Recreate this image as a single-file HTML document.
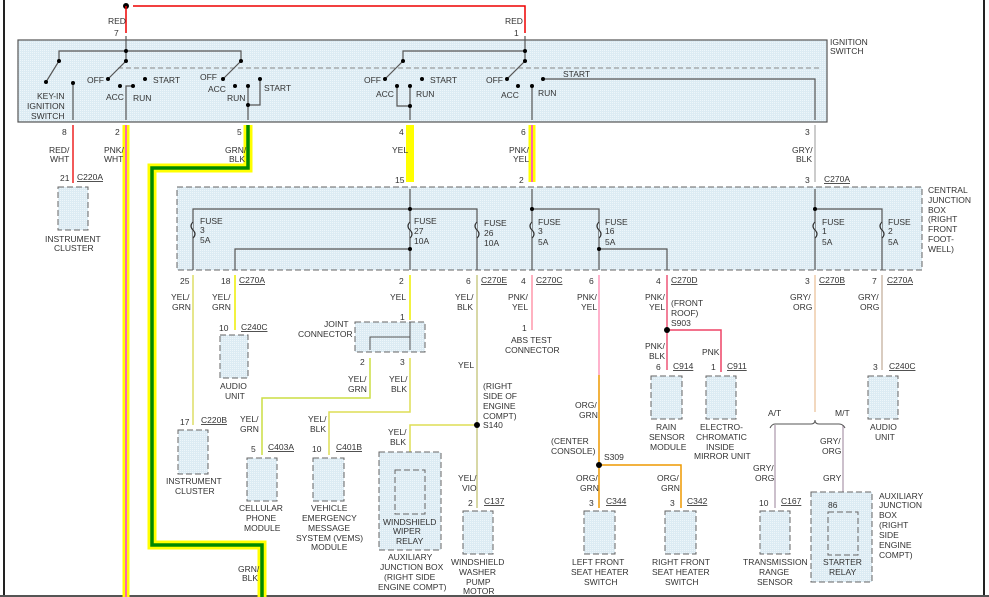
<!DOCTYPE html><html><head><style>body{margin:0;background:#fff}svg{display:block}text{font-family:"Liberation Sans",sans-serif;font-size:8.5px;fill:#333}</style></head><body>
<svg width="989" height="597" viewBox="0 0 989 597" xmlns="http://www.w3.org/2000/svg">
<defs><pattern id="p" width="2" height="2" patternUnits="userSpaceOnUse"><rect width="2" height="2" fill="#dcebf3"/><rect width="1" height="1" fill="#eef6fa"/></pattern></defs>
<line x1="4" y1="0" x2="4" y2="597" stroke="#222" stroke-width="2"/>
<line x1="984" y1="0" x2="984" y2="597" stroke="#222" stroke-width="2"/>
<line x1="0" y1="596" x2="989" y2="596" stroke="#555" stroke-width="2"/>
<!-- top red -->
<circle cx="126" cy="6" r="3" fill="#000"/>
<polyline points="133,6 525,6 525,33" fill="none" stroke="#e00" stroke-width="1.5"/>
<line x1="126" y1="6" x2="126" y2="33" stroke="#e00" stroke-width="1.5"/>
<text x="108" y="24">RED</text><text x="114" y="36">7</text>
<text x="505" y="24">RED</text><text x="514" y="36">1</text>
<!-- ignition switch -->
<rect x="18" y="40" width="809" height="82" fill="url(#p)" stroke="#555" stroke-width="1.2"/>
<text x="830" y="45">IGNITION</text><text x="830" y="54">SWITCH</text>
<line x1="118" y1="68" x2="820" y2="68" stroke="#888" stroke-dasharray="5,3"/>
<g stroke="#555" fill="none" stroke-width="1.2">
<polyline points="126,36 126,51 59,51 59,61 46,82"/><polyline points="126,51 241,51 241,61 223,79"/>
<line x1="126" y1="51" x2="126" y2="61"/><line x1="126" y1="61" x2="108" y2="79"/>
<line x1="73" y1="83" x2="73" y2="120"/><polyline points="133,86 126,86 126,120"/>
<polyline points="260,79 260,105 248,105"/><line x1="248" y1="86" x2="248" y2="120"/>
<polyline points="525,36 525,51 403,51 403,61 385,79"/><line x1="525" y1="51" x2="525" y2="61"/><line x1="525" y1="61" x2="507" y2="79"/>
<polyline points="397,86 397,106 410,106"/><line x1="410" y1="86" x2="410" y2="120"/>
<line x1="532" y1="86" x2="532" y2="120"/>
<polyline points="543,79 815,79 815,120"/>
</g>
<g fill="#000">
<circle cx="126" cy="51" r="2"/><circle cx="59" cy="61" r="2"/><circle cx="46" cy="82" r="2"/><circle cx="73" cy="83" r="2"/>
<circle cx="126" cy="61" r="2"/><circle cx="108" cy="79" r="2"/><circle cx="120" cy="86" r="2"/><circle cx="133" cy="86" r="2"/><circle cx="145" cy="79" r="2"/>
<circle cx="241" cy="61" r="2"/><circle cx="223" cy="79" r="2"/><circle cx="235" cy="86" r="2"/><circle cx="248" cy="86" r="2"/><circle cx="260" cy="79" r="2"/><circle cx="248" cy="105" r="2"/>
<circle cx="403" cy="61" r="2"/><circle cx="385" cy="79" r="2"/><circle cx="397" cy="86" r="2"/><circle cx="410" cy="86" r="2"/><circle cx="422" cy="79" r="2"/><circle cx="410" cy="106" r="2"/>
<circle cx="525" cy="51" r="2"/><circle cx="525" cy="61" r="2"/><circle cx="507" cy="79" r="2"/><circle cx="518" cy="86" r="2"/><circle cx="532" cy="86" r="2"/><circle cx="543" cy="79" r="2"/>
</g>
<text x="37" y="99">KEY-IN</text><text x="27" y="109">IGNITION</text><text x="31" y="119">SWITCH</text>
<text x="87" y="83">OFF</text><text x="106" y="100">ACC</text><text x="133" y="101">RUN</text><text x="153" y="83">START</text>
<text x="200" y="80">OFF</text><text x="208" y="92">ACC</text><text x="227" y="101">RUN</text><text x="264" y="91">START</text>
<text x="364" y="83">OFF</text><text x="376" y="97">ACC</text><text x="416" y="97">RUN</text><text x="430" y="83">START</text>
<text x="486" y="83">OFF</text><text x="501" y="98">ACC</text><text x="538" y="96">RUN</text><text x="563" y="77">START</text>
<!-- wires from switch -->
<line x1="73" y1="125" x2="73" y2="183" stroke="#e22" stroke-width="1.5"/>
<line x1="126" y1="125" x2="126" y2="597" stroke="#ff0" stroke-width="7"/><line x1="126" y1="125" x2="126" y2="597" stroke="#f6a" stroke-width="2"/>
<polyline points="248,125 248,168 152,168 152,545 262,545 262,597" fill="none" stroke="#ff0" stroke-width="9"/>
<polyline points="248,125 248,168 152,168 152,545 262,545 262,597" fill="none" stroke="#080" stroke-width="3.5"/>
<line x1="410" y1="125" x2="410" y2="182" stroke="#ff0" stroke-width="8"/>
<line x1="532" y1="125" x2="532" y2="182" stroke="#ff0" stroke-width="7"/><line x1="532" y1="125" x2="532" y2="182" stroke="#f6a" stroke-width="2"/>
<line x1="815" y1="125" x2="815" y2="182" stroke="#bbb" stroke-width="1.5"/>
<text x="62" y="135">8</text><text x="49" y="153">RED/</text><text x="50" y="162">WHT</text>
<text x="115" y="135">2</text><text x="104" y="153">PNK/</text><text x="104" y="162">WHT</text>
<text x="237" y="135">5</text><text x="225" y="153">GRN/</text><text x="229" y="162">BLK</text>
<text x="399" y="135">4</text><text x="392" y="153">YEL</text>
<text x="521" y="135">6</text><text x="509" y="153">PNK/</text><text x="513" y="162">YEL</text>
<text x="805" y="135">3</text><text x="792" y="153">GRY/</text><text x="796" y="162">BLK</text>
<text x="60" y="181">21</text><text x="77" y="180" text-decoration="underline">C220A</text>
<rect x="58" y="187" width="30" height="43" fill="url(#p)" stroke="#666" stroke-dasharray="6,3"/>
<text x="45" y="242">INSTRUMENT</text><text x="54" y="251">CLUSTER</text>
<text x="395" y="183">15</text><text x="519" y="183">2</text><text x="805" y="183">3</text><text x="824" y="182" text-decoration="underline">C270A</text>
<!-- central junction box -->
<rect x="177" y="187" width="745" height="83" fill="url(#p)" stroke="#666" stroke-dasharray="6,3"/>
<text x="928" y="193">CENTRAL</text><text x="928" y="203">JUNCTION</text><text x="928" y="213">BOX</text><text x="928" y="222">(RIGHT</text><text x="928" y="232">FRONT</text><text x="928" y="242">FOOT-</text><text x="928" y="252">WELL)</text>
<g stroke="#555" fill="none" stroke-width="1.2">
<polyline points="193,270 193,209 477,209 477,270"/><line x1="410" y1="189" x2="410" y2="270"/>
<polyline points="235,270 235,249 410,249"/>
<polyline points="532,189 532,270"/><polyline points="532,209 599,209 599,270"/><polyline points="599,249 667,249 667,270"/>
<polyline points="815,189 815,270"/><polyline points="815,209 882,209 882,270"/>
</g>
<g fill="#dcebf3" stroke="#333" stroke-width="1.2">
<path d="M193,222 q-4,4 0,8 q4,4 0,8"/><path d="M410,222 q-4,4 0,8 q4,4 0,8"/><path d="M477,222 q-4,4 0,8 q4,4 0,8"/><path d="M532,222 q-4,4 0,8 q4,4 0,8"/><path d="M599,222 q-4,4 0,8 q4,4 0,8"/><path d="M815,222 q-4,4 0,8 q4,4 0,8"/><path d="M882,222 q-4,4 0,8 q4,4 0,8"/>
</g>
<g fill="#000"><circle cx="410" cy="209" r="2"/><circle cx="410" cy="249" r="2"/><circle cx="532" cy="209" r="2"/><circle cx="599" cy="249" r="2"/><circle cx="815" cy="209" r="2"/></g>
<text x="200" y="224">FUSE</text><text x="200" y="233">3</text><text x="200" y="243">5A</text>
<text x="414" y="224">FUSE</text><text x="414" y="234">27</text><text x="414" y="244">10A</text>
<text x="484" y="226">FUSE</text><text x="484" y="236">26</text><text x="484" y="246">10A</text>
<text x="538" y="225">FUSE</text><text x="538" y="234">3</text><text x="538" y="245">5A</text>
<text x="605" y="225">FUSE</text><text x="605" y="234">16</text><text x="605" y="245">5A</text>
<text x="822" y="225">FUSE</text><text x="822" y="234">1</text><text x="822" y="245">5A</text>
<text x="888" y="225">FUSE</text><text x="888" y="234">2</text><text x="888" y="245">5A</text>
<!-- bottom pins -->
<text x="180" y="284">25</text><text x="221" y="284">18</text><text x="239" y="283" text-decoration="underline">C270A</text>
<text x="399" y="284">2</text><text x="466" y="284">6</text><text x="481" y="283" text-decoration="underline">C270E</text>
<text x="521" y="284">4</text><text x="536" y="283" text-decoration="underline">C270C</text>
<text x="589" y="284">6</text><text x="656" y="284">4</text><text x="671" y="283" text-decoration="underline">C270D</text>
<text x="805" y="284">3</text><text x="819" y="283" text-decoration="underline">C270B</text>
<text x="872" y="284">7</text><text x="887" y="283" text-decoration="underline">C270A</text>
<!-- lower wires -->
<g fill="none" stroke-width="1.5">
<line x1="193" y1="275" x2="193" y2="425" stroke="#dd6"/>
<line x1="235" y1="275" x2="235" y2="330" stroke="#ee0"/>
<line x1="410" y1="275" x2="410" y2="320" stroke="#ee0"/>
<polyline points="370,358 370,398 262,398 262,455" stroke="#cd4"/>
<polyline points="410,358 410,412 329,412 329,455" stroke="#dd5"/>
<polyline points="477,275 477,508" stroke="#cc8"/>
<polyline points="477,425 410,425 410,468" stroke="#dd5"/>
<line x1="532" y1="275" x2="532" y2="330" stroke="#f9a"/>
<line x1="599" y1="275" x2="599" y2="375" stroke="#f9b"/>
<line x1="599" y1="375" x2="599" y2="508" stroke="#e90"/>
<polyline points="599,465 681,465 681,508" stroke="#e90"/>
<line x1="667" y1="275" x2="667" y2="370" stroke="#e57"/>
<polyline points="667,330 721,330 721,372" stroke="#e46"/>
<line x1="815" y1="275" x2="815" y2="412" stroke="#eca"/>
<line x1="775" y1="425" x2="775" y2="508" stroke="#bab"/>
<line x1="843" y1="425" x2="843" y2="507" stroke="#bab"/>
<line x1="882" y1="275" x2="882" y2="370" stroke="#cba"/>
<path d="M770,428 q2,-4 5,-4 h36 q4,0 4,-4 q0,4 4,4 h20 q4,0 6,4" stroke="#555" stroke-width="1"/>
</g>
<g fill="#000"><circle cx="477" cy="425" r="3"/><circle cx="599" cy="465" r="3"/><circle cx="667" cy="330" r="3"/><circle cx="410" cy="337" r="2"/></g>
<text x="171" y="300">YEL/</text><text x="172" y="310">GRN</text>
<text x="212" y="300">YEL/</text><text x="212" y="310">GRN</text>
<text x="390" y="300">YEL</text>
<text x="455" y="300">YEL/</text><text x="457" y="310">BLK</text>
<text x="508" y="300">PNK/</text><text x="512" y="310">YEL</text>
<text x="577" y="300">PNK/</text><text x="581" y="310">YEL</text>
<text x="645" y="300">PNK/</text><text x="649" y="310">YEL</text>
<text x="671" y="306">(FRONT</text><text x="671" y="316">ROOF)</text><text x="671" y="326">S903</text>
<text x="790" y="300">GRY/</text><text x="793" y="310">ORG</text>
<text x="858" y="300">GRY/</text><text x="860" y="310">ORG</text>
<!-- joint connector -->
<rect x="355" y="322" width="70" height="30" fill="url(#p)" stroke="#666" stroke-dasharray="6,3"/>
<polyline points="410,322 410,350" fill="none" stroke="#555"/><polyline points="410,337 370,337 370,350" fill="none" stroke="#555"/>
<text x="324" y="327">JOINT</text><text x="298" y="337">CONNECTOR</text>
<text x="400" y="320">1</text><text x="360" y="365">2</text><text x="400" y="365">3</text>
<text x="348" y="382">YEL/</text><text x="348" y="392">GRN</text><text x="389" y="382">YEL/</text><text x="391" y="392">BLK</text>
<text x="458" y="368">YEL</text>
<text x="483" y="389">(RIGHT</text><text x="483" y="399">SIDE OF</text><text x="483" y="409">ENGINE</text><text x="483" y="419">COMPT)</text><text x="483" y="428">S140</text>
<!-- components -->
<g fill="url(#p)" stroke="#666" stroke-dasharray="6,3">
<rect x="220" y="335" width="28" height="43"/><rect x="178" y="430" width="30" height="44"/>
<rect x="247" y="458" width="30" height="43"/><rect x="313" y="458" width="31" height="43"/>
<rect x="379" y="452" width="62" height="98"/><rect x="395" y="470" width="30" height="44"/>
<rect x="463" y="511" width="30" height="43"/>
<rect x="651" y="376" width="31" height="43"/><rect x="706" y="376" width="30" height="43"/>
<rect x="868" y="376" width="30" height="43"/>
<rect x="584" y="511" width="31" height="43"/><rect x="665" y="511" width="31" height="43"/>
<rect x="760" y="511" width="30" height="43"/>
<rect x="811" y="492" width="61" height="90"/><rect x="828" y="512" width="30" height="43"/>
</g>
<text x="219" y="331">10</text><text x="241" y="330" text-decoration="underline">C240C</text>
<text x="220" y="389">AUDIO</text><text x="225" y="399">UNIT</text>
<text x="180" y="425">17</text><text x="201" y="423" text-decoration="underline">C220B</text>
<text x="166" y="484">INSTRUMENT</text><text x="175" y="494">CLUSTER</text>
<text x="240" y="422">YEL/</text><text x="240" y="432">GRN</text>
<text x="251" y="452">5</text><text x="268" y="450" text-decoration="underline">C403A</text>
<text x="239" y="511">CELLULAR</text><text x="246" y="521">PHONE</text><text x="244" y="531">MODULE</text>
<text x="308" y="422">YEL/</text><text x="310" y="432">BLK</text>
<text x="312" y="452">10</text><text x="336" y="450" text-decoration="underline">C401B</text>
<text x="311" y="511">VEHICLE</text><text x="302" y="521">EMERGENCY</text><text x="308" y="531">MESSAGE</text><text x="296" y="541">SYSTEM (VEMS)</text><text x="311" y="550">MODULE</text>
<text x="388" y="435">YEL/</text><text x="390" y="445">BLK</text>
<text x="383" y="525">WINDSHIELD</text><text x="393" y="534">WIPER</text><text x="396" y="544">RELAY</text>
<text x="388" y="560">AUXILIARY</text><text x="380" y="570">JUNCTION BOX</text><text x="384" y="580">(RIGHT SIDE</text><text x="378" y="590">ENGINE COMPT)</text>
<text x="458" y="481">YEL/</text><text x="462" y="491">VIO</text>
<text x="468" y="506">2</text><text x="484" y="504" text-decoration="underline">C137</text>
<text x="451" y="565">WINDSHIELD</text><text x="459" y="575">WASHER</text><text x="466" y="585">PUMP</text><text x="463" y="594">MOTOR</text>
<text x="522" y="331">1</text><text x="511" y="343">ABS TEST</text><text x="505" y="353">CONNECTOR</text>
<text x="645" y="349">PNK/</text><text x="649" y="359">BLK</text><text x="702" y="355">PNK</text>
<text x="656" y="370">6</text><text x="673" y="369" text-decoration="underline">C914</text>
<text x="711" y="370">1</text><text x="727" y="369" text-decoration="underline">C911</text>
<text x="656" y="430">RAIN</text><text x="649" y="440">SENSOR</text><text x="650" y="450">MODULE</text>
<text x="700" y="430">ELECTRO-</text><text x="696" y="440">CHROMATIC</text><text x="706" y="450">INSIDE</text><text x="694" y="459">MIRROR UNIT</text>
<text x="873" y="370">3</text><text x="889" y="369" text-decoration="underline">C240C</text>
<text x="870" y="430">AUDIO</text><text x="875" y="440">UNIT</text>
<text x="575" y="408">ORG/</text><text x="579" y="418">GRN</text>
<text x="551" y="444">(CENTER</text><text x="551" y="454">CONSOLE)</text><text x="604" y="460">S309</text>
<text x="576" y="481">ORG/</text><text x="580" y="491">GRN</text><text x="657" y="481">ORG/</text><text x="661" y="491">GRN</text>
<text x="589" y="506">3</text><text x="606" y="504" text-decoration="underline">C344</text>
<text x="670" y="506">3</text><text x="687" y="504" text-decoration="underline">C342</text>
<text x="572" y="565">LEFT FRONT</text><text x="571" y="575">SEAT HEATER</text><text x="584" y="585">SWITCH</text>
<text x="652" y="565">RIGHT FRONT</text><text x="652" y="575">SEAT HEATER</text><text x="665" y="585">SWITCH</text>
<text x="768" y="416">A/T</text><text x="835" y="416">M/T</text>
<text x="820" y="444">GRY/</text><text x="822" y="454">ORG</text><text x="823" y="481">GRY</text>
<text x="753" y="471">GRY/</text><text x="755" y="481">ORG</text>
<text x="759" y="506">10</text><text x="781" y="504" text-decoration="underline">C167</text>
<text x="743" y="565">TRANSMISSION</text><text x="759" y="575">RANGE</text><text x="757" y="585">SENSOR</text>
<text x="828" y="508">86</text>
<text x="823" y="565">STARTER</text><text x="829" y="575">RELAY</text>
<text x="879" y="499">AUXILIARY</text><text x="879" y="508">JUNCTION</text><text x="879" y="518">BOX</text><text x="879" y="528">(RIGHT</text><text x="879" y="538">SIDE</text><text x="879" y="548">ENGINE</text><text x="879" y="558">COMPT)</text>
<text x="238" y="572">GRN/</text><text x="242" y="581">BLK</text>
</svg></body></html>
